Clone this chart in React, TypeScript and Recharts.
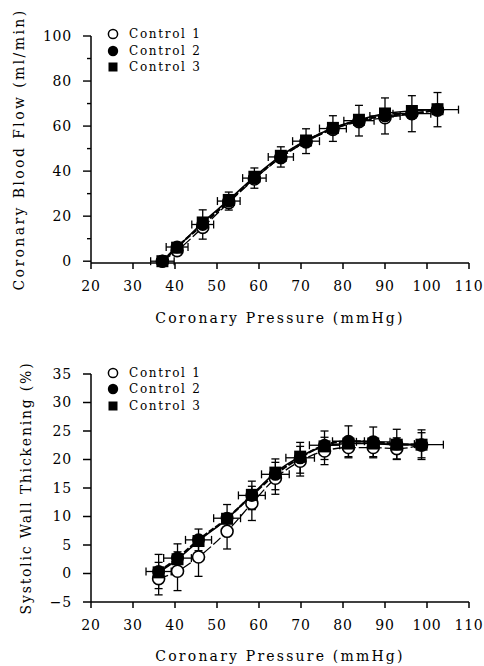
import React from "react";
import {
  ComposedChart,
  Line,
  Scatter,
  XAxis,
  YAxis,
  ErrorBar,
  Legend,
  Label,
} from "recharts";

// --- coronary blood flow panel ---
const flowPressure = [37.0, 40.5, 46.6, 52.8, 58.9, 65.2, 71.2, 77.6, 83.8, 90.0, 96.4, 102.5];
const flowControl1 = [0, 4.7, 15.0, 26.0, 36.5, 46.0, 53.0, 58.5, 62.0, 63.7, 65.5, 67.0];
const flowControl2 = [0, 6.3, 16.3, 26.7, 36.9, 46.3, 53.3, 58.9, 62.4, 64.5, 65.5, 67.3];
const flowControl3 = [0, 6.0, 17.2, 27.2, 37.5, 46.8, 53.6, 59.2, 62.8, 65.6, 66.7, 67.5];
const flowErrY = [0.8, 1.2, 6.5, 4.0, 4.5, 4.5, 5.5, 5.7, 6.8, 8.0, 8.0, 7.6];
const flowErrX = [2.8, 2.6, 2.6, 2.7, 2.8, 3.0, 3.2, 3.2, 3.6, 3.6, 4.5, 5.0];
const flowTicks = [0, 10, 20, 30, 40, 50, 60, 70, 80, 90, 100];

// --- systolic wall thickening panel ---
const swtPressure = [36.1, 40.6, 45.6, 52.4, 58.3, 63.9, 69.8, 75.6, 81.3, 87.2, 92.8, 98.7];
const swtControl1 = [-0.9, 0.4, 2.9, 7.4, 12.3, 16.7, 19.7, 21.5, 22.1, 22.1, 21.9, 22.5];
const swtControl2 = [0.35, 2.7, 5.9, 9.7, 13.7, 17.4, 20.3, 22.5, 23.2, 23.1, 22.7, 22.6];
const swtControl3 = [0.2, 2.5, 5.7, 9.6, 13.8, 17.7, 20.5, 22.3, 22.8, 22.8, 22.6, 22.6];
const swtErr1 = [2.85, 3.4, 3.4, 3.1, 3.0, 2.8, 2.6, 2.4, 1.8, 1.8, 1.9, 2.2];
const swtErr2 = [3.0, 2.5, 1.9, 2.4, 2.5, 2.7, 2.7, 2.5, 2.7, 2.6, 2.6, 2.6];
const swtErrX = [3.0, 3.3, 3.1, 3.2, 3.2, 3.3, 3.4, 3.6, 3.8, 4.0, 4.2, 5.2];
const swtTicks = [-5, 0, 5, 10, 15, 20, 25, 30, 35];

const pressureTicks = [20, 30, 40, 50, 60, 70, 80, 90, 100, 110];
const seriesNames = ["Control 1", "Control 2", "Control 3"];

const FONT = "'DejaVu Serif', 'Liberation Serif', serif";
const TICK_SIZE = 8;
const TICK_MARGIN = 11;

const build = (xs: number[], ys: number[], ey?: number[], ex?: number[]) =>
  xs.map((x, i) => ({ x, y: ys[i], ey: ey ? ey[i] : 0, ex: ex ? ex[i] : 0 }));

const OpenCircle = (p: any) => (
  <circle cx={p.cx} cy={p.cy} r={6} fill="#fff" stroke="#000" strokeWidth={1.6} />
);
const FilledCircle = (p: any) => <circle cx={p.cx} cy={p.cy} r={6.5} fill="#000" />;
const FilledSquare = (p: any) => (
  <rect x={p.cx - 6} y={p.cy - 6} width={12} height={12} fill="#000" />
);

const LegendBox = () => (
  <div style={{ fontFamily: FONT, fontSize: 12, letterSpacing: 1.7, color: "#000" }}>
    {seriesNames.map((name, i) => (
      <div key={name} style={{ display: "flex", alignItems: "center", height: 16.6 }}>
        <svg width={12} height={12} style={{ marginRight: 10 }}>
          {i === 0 && <circle cx={6} cy={6} r={4.6} fill="#fff" stroke="#000" strokeWidth={1.5} />}
          {i === 1 && <circle cx={6} cy={6} r={5.2} fill="#000" />}
          {i === 2 && <rect x={1.5} y={1.5} width={9} height={9} fill="#000" />}
        </svg>
        <span>{name}</span>
      </div>
    ))}
  </div>
);

const YTitle = (props: any) => {
  const { viewBox, value, dx, spacing } = props;
  const cx = viewBox.x + dx;
  const cy = viewBox.y + viewBox.height / 2;
  return (
    <text
      x={cx}
      y={cy}
      transform={`rotate(-90 ${cx} ${cy})`}
      textAnchor="middle"
      dominantBaseline="central"
      fontFamily={FONT}
      fontSize={14}
      letterSpacing={spacing}
      fill="#000"
    >
      {value}
    </text>
  );
};

const FlowTick = (props: any) => {
  const { x, y, payload } = props;
  const axisX = x + TICK_SIZE + TICK_MARGIN;
  const major = payload.value % 20 === 0;
  return (
    <g>
      <line x1={axisX - (major ? 8 : 4)} x2={axisX} y1={y} y2={y} stroke="#000" strokeWidth={1.4} />
      {major && (
        <text
          x={x}
          y={y}
          textAnchor="end"
          dominantBaseline="central"
          fontFamily={FONT}
          fontSize={14}
          letterSpacing={0.8}
          fill="#000"
        >
          {payload.value}
        </text>
      )}
    </g>
  );
};

const tickStyle = { fontFamily: FONT, fontSize: 14, fill: "#000", letterSpacing: 0.8 };
const axisStroke = { stroke: "#000", strokeWidth: 1.5 };

function Panel({
  height,
  top,
  c1,
  c2,
  c3,
  domain,
  yTicks,
  yTitle,
  yTitleDx,
  yTitleSpacing,
  minorTicks,
  xTitleOffset,
  xAxisHeight,
  legendTop,
  err1,
}: any) {
  return (
    <ComposedChart
      width={484}
      height={height}
      margin={{ top, right: 15, bottom: 0, left: 0 }}
      style={{ fontFamily: FONT }}
    >
      <XAxis
        dataKey="x"
        type="number"
        domain={[20, 110]}
        ticks={pressureTicks}
        allowDataOverflow
        tickSize={6}
        tickMargin={12}
        height={xAxisHeight}
        axisLine={axisStroke}
        tickLine={axisStroke}
        tick={tickStyle}
      >
        <Label
          value="Coronary Pressure (mmHg)"
          position="insideBottom"
          offset={xTitleOffset}
          style={{ fontFamily: FONT, fontSize: 14, fill: "#000", letterSpacing: 2.2 }}
        />
      </XAxis>
      <YAxis
        type="number"
        domain={domain}
        ticks={yTicks}
        width={91}
        tickSize={TICK_SIZE}
        tickMargin={TICK_MARGIN}
        axisLine={axisStroke}
        tickLine={minorTicks ? false : axisStroke}
        tick={minorTicks ? <FlowTick /> : tickStyle}
        tickFormatter={(v: number) => String(v).replace("-", "\u2212")}
        interval={0}
        label={<YTitle value={yTitle} dx={yTitleDx} spacing={yTitleSpacing} />}
      />
      <Legend
        layout="vertical"
        align="center"
        verticalAlign="middle"
        wrapperStyle={{ left: 107, top: legendTop, width: "auto", height: "auto" }}
        content={() => <LegendBox />}
      />
      <Line data={c1} dataKey="y" type="monotone" stroke="#000" strokeWidth={1.3} strokeDasharray="10 3" dot={false} legendType="none" isAnimationActive={false} />
      <Line data={c3} dataKey="y" type="monotone" stroke="#000" strokeWidth={1.6} dot={false} legendType="none" isAnimationActive={false} />
      <Line data={c2} dataKey="y" type="monotone" stroke="#000" strokeWidth={2.2} strokeDasharray="6 2" dot={false} legendType="none" isAnimationActive={false} />
      <Scatter data={c1} dataKey="y" name="Control 1" shape={OpenCircle} isAnimationActive={false}>
        {err1 && <ErrorBar dataKey="ey" direction="y" width={4} stroke="#000" strokeWidth={1.3} />}
      </Scatter>
      <Scatter data={c3} dataKey="y" name="Control 3" shape={FilledSquare} isAnimationActive={false} />
      <Scatter data={c2} dataKey="y" name="Control 2" shape={FilledCircle} isAnimationActive={false}>
        <ErrorBar dataKey="ey" direction="y" width={4} stroke="#000" strokeWidth={1.3} />
        <ErrorBar dataKey="ex" direction="x" width={4} stroke="#000" strokeWidth={1.3} />
      </Scatter>
    </ComposedChart>
  );
}

export default function App() {
  const f1 = build(flowPressure, flowControl1);
  const f2 = build(flowPressure, flowControl2, flowErrY, flowErrX);
  const f3 = build(flowPressure, flowControl3);
  const s1 = build(swtPressure, swtControl1, swtErr1);
  const s2 = build(swtPressure, swtControl2, swtErr2, swtErrX);
  const s3 = build(swtPressure, swtControl3);

  return (
    <div style={{ position: "absolute", left: 0, top: 0, width: 484, height: 666, background: "#fff" }}>
      <Panel
        height={330}
        top={36}
        c1={f1}
        c2={f2}
        c3={f3}
        domain={[0, 100]}
        yTicks={flowTicks}
        yTitle="Coronary Blood Flow (ml/min)"
        yTitleDx={19}
        yTitleSpacing={2.4}
        minorTicks
        xTitleOffset={7}
        xAxisHeight={67}
        legendTop={25.7}
      />
      <Panel
        height={336}
        top={44}
        c1={s1}
        c2={s2}
        c3={s3}
        domain={[-5, 35]}
        yTicks={swtTicks}
        yTitle="Systolic Wall Thickening (%)"
        yTitleDx={26}
        yTitleSpacing={1.8}
        xTitleOffset={5}
        xAxisHeight={64}
        legendTop={34.4}
        err1
      />
    </div>
  );
}
